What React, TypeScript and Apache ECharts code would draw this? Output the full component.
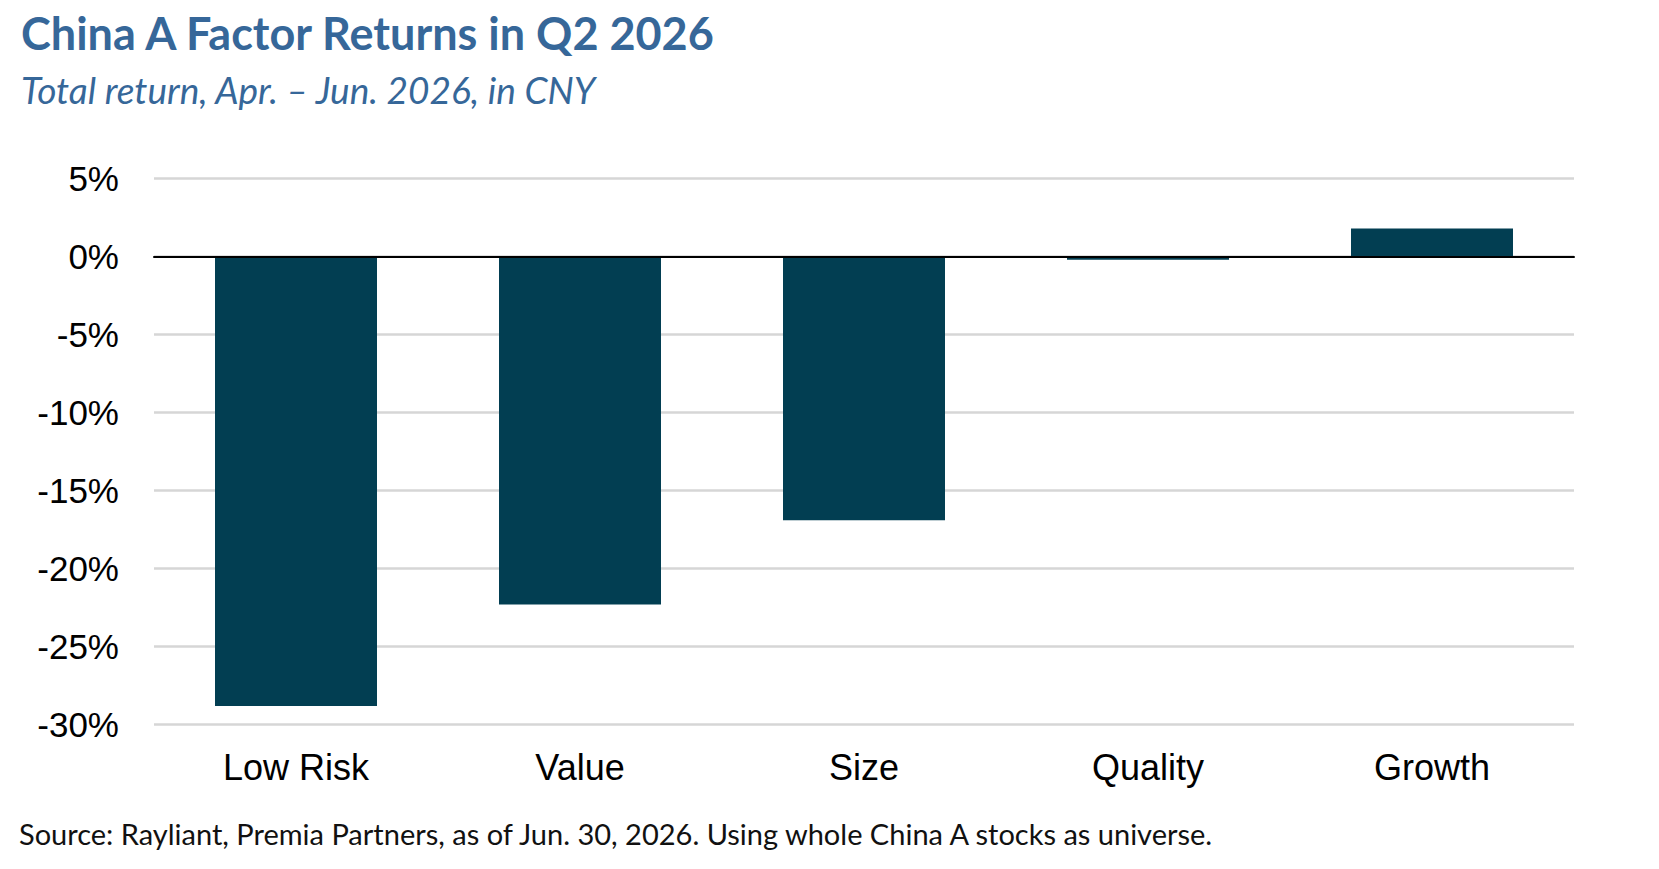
import React, { useEffect, useRef } from "react";
import * as echarts from "echarts";

const categories = ["Low Risk", "Value", "Size", "Quality", "Growth"];
const returns = [-28.8, -22.3, -16.9, -0.2, 1.8];
const yTicks = { min: -30, max: 5, interval: 5 };

const titleText = "China A Factor Returns in Q2 2026";
const subtitleText = "Total return, Apr. \u2013 Jun. 2026, in CNY";
const sourceText =
  "Source: Rayliant, Premia Partners, as of Jun. 30, 2026. Using whole China A stocks as universe.";

export default function App() {
  const ref = useRef<HTMLDivElement>(null);
  useEffect(() => {
    document.body.style.margin = "0";
    if (!ref.current) return;
    const chart = echarts.init(ref.current, undefined, { renderer: "svg" });
    chart.setOption({
      animation: false,
      backgroundColor: "#ffffff",
      graphic: [
        {
          type: "text",
          left: 21,
          top: 10,
          style: {
            text: titleText,
            fill: "#366799",
            font: "bold 45px Lato",
          },
        },
        {
          type: "text",
          left: 21,
          top: 71,
          style: {
            text: subtitleText,
            fill: "#366799",
            font: "italic 37px Lato",
          },
        },
        {
          type: "text",
          left: 19,
          top: 819,
          style: {
            text: sourceText,
            fill: "#111111",
            font: "29px Lato",
          },
        },
      ],
      grid: { left: 154, right: 85, top: 178.7, bottom: 144.3, containLabel: false },
      xAxis: {
        type: "category",
        data: categories,
        z: 5,
        axisLine: { onZero: true, lineStyle: { color: "#000000", width: 2 } },
        axisTick: { show: false },
        axisLabel: {
          interval: 0,
          color: "#000000",
          fontFamily: "Liberation Sans",
          fontSize: 36,
          margin: 25,
          lineHeight: 36,
        },
      },
      yAxis: {
        type: "value",
        min: yTicks.min,
        max: yTicks.max,
        interval: yTicks.interval,
        axisLine: { show: false },
        axisTick: { show: false },
        splitLine: { lineStyle: { color: "#d6d6d6", width: 2.5 } },
        axisLabel: {
          formatter: (v: number) => `${v}%`,
          color: "#000000",
          fontFamily: "Liberation Sans",
          fontSize: 35,
          margin: 35,
        },
      },
      series: [
        {
          type: "bar",
          data: returns,
          barWidth: 162,
          itemStyle: { color: "#023E52" },
        },
      ],
    });
    return () => chart.dispose();
  }, []);
  return <div ref={ref} style={{ width: 1659, height: 869 }} />;
}
